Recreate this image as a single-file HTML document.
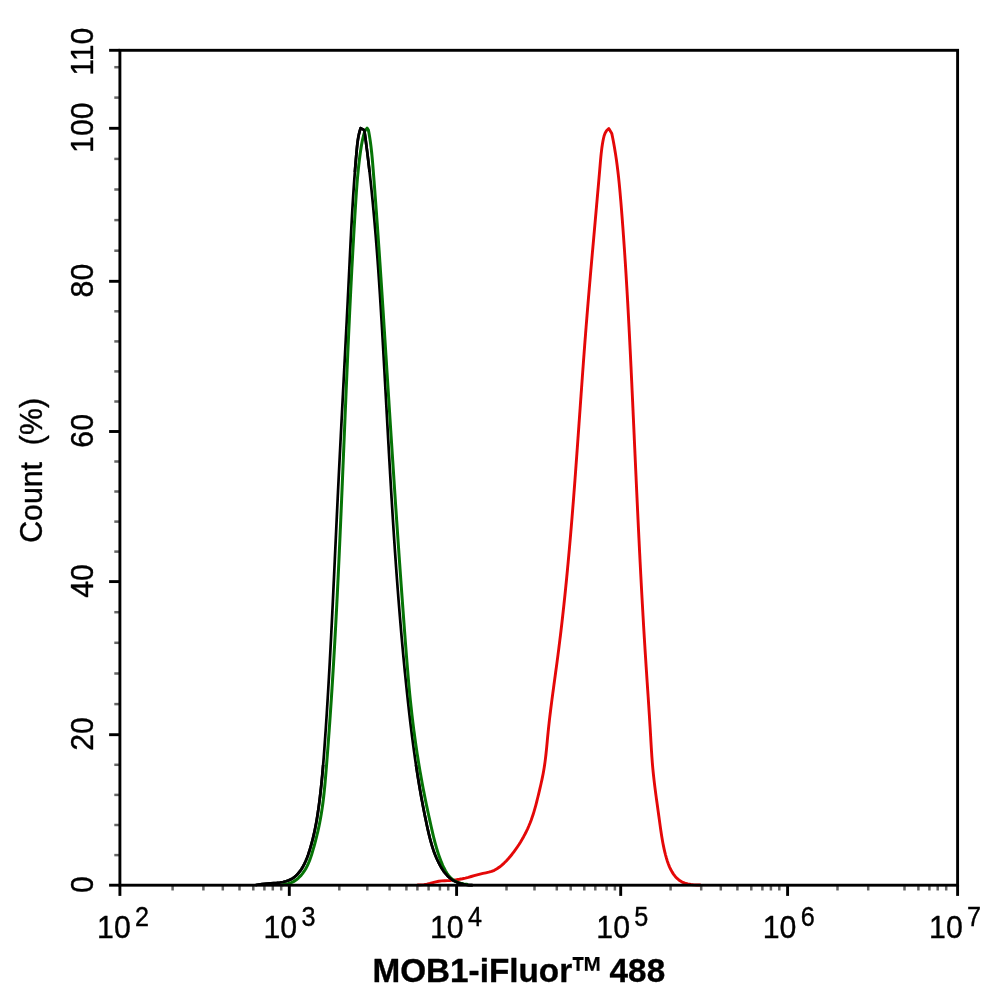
<!DOCTYPE html>
<html lang="en">
<head>
<meta charset="utf-8">
<title>MOB1-iFluor™ 488</title>
<style>
html,body{margin:0;padding:0;background:#fff;}
body{width:994px;height:1002px;overflow:hidden;font-family:"Liberation Sans",sans-serif;}
svg{display:block;}
</style>
</head>
<body>
<svg width="994" height="1002" viewBox="0 0 994 1002">
<rect width="994" height="1002" fill="#fff"/>
<g fill="none" stroke-linejoin="round" stroke-linecap="round" stroke-width="2.9">
<path d="M418.00,885.00 L420.98,884.91 L423.95,884.63 L426.91,884.17 L429.88,883.52 L432.84,882.72 L435.80,881.89 L438.76,881.25 L441.71,880.90 L444.67,880.72 L447.63,880.61 L450.59,880.43 L453.55,880.15 L456.51,879.76 L459.47,879.28 L462.42,878.71 L465.37,878.05 L468.32,877.32 L471.25,876.52 L474.18,875.68 L477.10,874.85 L480.02,874.07 L482.94,873.39 L485.86,872.82 L488.74,872.20 L491.57,871.41 L494.32,870.29 L496.98,868.79 L499.51,867.01 L501.89,865.08 L504.13,863.06 L506.25,860.96 L508.27,858.78 L510.20,856.53 L512.06,854.22 L513.87,851.85 L515.63,849.44 L517.34,846.97 L519.00,844.46 L520.60,841.91 L522.15,839.31 L523.63,836.68 L525.05,834.01 L526.41,831.30 L527.71,828.56 L528.93,825.79 L530.08,823.00 L531.16,820.18 L532.17,817.34 L533.12,814.47 L534.01,811.59 L534.86,808.70 L535.66,805.79 L536.43,802.87 L537.18,799.94 L537.90,797.00 L538.61,794.06 L539.32,791.12 L540.02,788.18 L540.70,785.23 L541.36,782.29 L542.00,779.34 L542.61,776.39 L543.19,773.45 L543.72,770.50 L544.21,767.54 L544.66,764.59 L545.07,761.64 L545.45,758.68 L545.79,755.73 L546.12,752.77 L546.42,749.81 L546.72,746.85 L547.00,743.89 L547.28,740.93 L547.55,737.97 L547.84,735.01 L548.13,732.04 L548.43,729.08 L548.75,726.11 L549.08,723.14 L549.41,720.17 L549.76,717.20 L550.11,714.23 L550.48,711.26 L550.85,708.29 L551.22,705.32 L551.61,702.34 L551.99,699.37 L552.39,696.39 L552.79,693.41 L553.19,690.44 L553.59,687.46 L553.99,684.48 L554.40,681.50 L554.81,678.52 L555.22,675.53 L555.62,672.55 L556.03,669.57 L556.43,666.58 L556.84,663.60 L557.23,660.61 L557.63,657.63 L558.02,654.64 L558.40,651.65 L558.79,648.66 L559.16,645.67 L559.54,642.68 L559.90,639.69 L560.27,636.70 L560.63,633.71 L560.99,630.71 L561.34,627.72 L561.69,624.73 L562.03,621.73 L562.37,618.74 L562.71,615.74 L563.04,612.74 L563.37,609.75 L563.70,606.75 L564.02,603.75 L564.34,600.75 L564.66,597.75 L564.97,594.75 L565.28,591.75 L565.59,588.75 L565.89,585.75 L566.19,582.75 L566.49,579.75 L566.78,576.75 L567.07,573.74 L567.36,570.74 L567.64,567.74 L567.93,564.73 L568.21,561.73 L568.48,558.72 L568.76,555.72 L569.03,552.71 L569.30,549.71 L569.56,546.70 L569.83,543.70 L570.09,540.69 L570.35,537.68 L570.61,534.67 L570.86,531.67 L571.12,528.66 L571.37,525.65 L571.61,522.64 L571.86,519.64 L572.11,516.63 L572.35,513.62 L572.59,510.61 L572.83,507.60 L573.07,504.59 L573.31,501.58 L573.54,498.57 L573.77,495.57 L574.00,492.56 L574.23,489.55 L574.46,486.54 L574.69,483.53 L574.92,480.52 L575.14,477.51 L575.37,474.50 L575.59,471.49 L575.81,468.48 L576.03,465.47 L576.25,462.46 L576.47,459.45 L576.69,456.44 L576.91,453.43 L577.12,450.42 L577.34,447.41 L577.56,444.40 L577.77,441.39 L577.98,438.38 L578.20,435.38 L578.41,432.37 L578.63,429.36 L578.84,426.35 L579.05,423.34 L579.26,420.33 L579.48,417.33 L579.69,414.32 L579.90,411.31 L580.12,408.30 L580.33,405.30 L580.54,402.29 L580.75,399.28 L580.97,396.28 L581.18,393.27 L581.40,390.27 L581.61,387.26 L581.83,384.26 L582.04,381.25 L582.26,378.25 L582.47,375.24 L582.69,372.24 L582.91,369.24 L583.13,366.24 L583.35,363.23 L583.57,360.23 L583.79,357.23 L584.02,354.23 L584.24,351.23 L584.47,348.23 L584.69,345.23 L584.92,342.23 L585.15,339.23 L585.38,336.24 L585.61,333.24 L585.85,330.24 L586.08,327.25 L586.32,324.25 L586.56,321.26 L586.80,318.26 L587.04,315.27 L587.28,312.27 L587.53,309.28 L587.77,306.29 L588.02,303.30 L588.27,300.31 L588.52,297.32 L588.78,294.33 L589.03,291.34 L589.28,288.35 L589.54,285.36 L589.80,282.37 L590.06,279.38 L590.31,276.39 L590.57,273.40 L590.83,270.42 L591.10,267.43 L591.36,264.44 L591.62,261.45 L591.89,258.47 L592.15,255.48 L592.41,252.49 L592.68,249.51 L592.94,246.52 L593.21,243.53 L593.48,240.55 L593.74,237.56 L594.01,234.57 L594.28,231.59 L594.54,228.60 L594.81,225.61 L595.08,222.62 L595.34,219.64 L595.61,216.65 L595.88,213.66 L596.14,210.67 L596.41,207.69 L596.67,204.70 L596.94,201.71 L597.20,198.72 L597.47,195.73 L597.73,192.74 L597.99,189.75 L598.25,186.76 L598.51,183.77 L598.77,180.77 L599.03,177.78 L599.29,174.79 L599.55,171.80 L599.80,168.80 L600.06,165.81 L600.31,162.81 L600.57,159.82 L600.85,156.82 L601.16,153.81 L601.50,150.81 L601.88,147.80 L602.32,144.78 L602.83,141.76 L603.41,138.73 L604.14,135.76 L605.18,132.99 L606.68,130.55 L608.80,128.60 L611.80,133.60 L612.42,136.57 L613.01,139.53 L613.58,142.50 L614.12,145.47 L614.63,148.44 L615.12,151.41 L615.59,154.38 L616.04,157.36 L616.47,160.33 L616.87,163.30 L617.26,166.28 L617.63,169.25 L617.99,172.22 L618.33,175.20 L618.66,178.18 L618.97,181.15 L619.27,184.13 L619.56,187.11 L619.84,190.09 L620.11,193.06 L620.37,196.04 L620.63,199.02 L620.88,202.00 L621.12,204.98 L621.36,207.97 L621.60,210.95 L621.83,213.93 L622.07,216.91 L622.30,219.90 L622.52,222.88 L622.75,225.87 L622.97,228.85 L623.19,231.84 L623.40,234.82 L623.62,237.81 L623.83,240.80 L624.04,243.78 L624.24,246.77 L624.45,249.76 L624.65,252.75 L624.85,255.74 L625.04,258.73 L625.24,261.72 L625.43,264.71 L625.62,267.70 L625.81,270.69 L626.00,273.68 L626.18,276.67 L626.36,279.67 L626.54,282.66 L626.72,285.65 L626.90,288.65 L627.07,291.64 L627.25,294.63 L627.42,297.63 L627.59,300.62 L627.76,303.62 L627.92,306.62 L628.09,309.61 L628.25,312.61 L628.41,315.61 L628.57,318.60 L628.73,321.60 L628.89,324.60 L629.05,327.60 L629.20,330.59 L629.36,333.59 L629.51,336.59 L629.66,339.59 L629.81,342.59 L629.96,345.59 L630.11,348.59 L630.26,351.59 L630.41,354.59 L630.55,357.59 L630.70,360.60 L630.84,363.60 L630.99,366.60 L631.13,369.60 L631.27,372.60 L631.41,375.60 L631.55,378.61 L631.70,381.61 L631.84,384.61 L631.97,387.62 L632.11,390.62 L632.25,393.62 L632.39,396.63 L632.53,399.63 L632.67,402.64 L632.80,405.64 L632.94,408.64 L633.08,411.65 L633.21,414.65 L633.35,417.66 L633.49,420.66 L633.62,423.67 L633.76,426.67 L633.90,429.68 L634.03,432.68 L634.17,435.69 L634.30,438.70 L634.44,441.70 L634.57,444.71 L634.71,447.71 L634.85,450.72 L634.98,453.73 L635.12,456.73 L635.25,459.74 L635.39,462.75 L635.53,465.75 L635.66,468.76 L635.80,471.77 L635.94,474.77 L636.08,477.78 L636.21,480.79 L636.35,483.79 L636.49,486.80 L636.63,489.81 L636.77,492.81 L636.91,495.82 L637.05,498.83 L637.19,501.83 L637.33,504.84 L637.47,507.85 L637.61,510.85 L637.75,513.86 L637.89,516.87 L638.04,519.87 L638.18,522.88 L638.32,525.89 L638.47,528.89 L638.62,531.90 L638.76,534.91 L638.91,537.91 L639.06,540.92 L639.20,543.93 L639.35,546.93 L639.50,549.94 L639.65,552.94 L639.81,555.95 L639.96,558.96 L640.11,561.96 L640.27,564.97 L640.42,567.97 L640.58,570.98 L640.73,573.98 L640.89,576.99 L641.05,579.99 L641.21,583.00 L641.37,586.00 L641.53,589.01 L641.69,592.01 L641.86,595.02 L642.02,598.02 L642.19,601.02 L642.36,604.03 L642.53,607.03 L642.70,610.03 L642.87,613.04 L643.04,616.04 L643.21,619.04 L643.39,622.04 L643.56,625.05 L643.74,628.05 L643.92,631.05 L644.10,634.05 L644.28,637.05 L644.47,640.05 L644.65,643.05 L644.84,646.05 L645.02,649.05 L645.21,652.05 L645.40,655.05 L645.60,658.05 L645.79,661.05 L645.98,664.05 L646.18,667.05 L646.38,670.05 L646.58,673.04 L646.77,676.04 L646.97,679.04 L647.17,682.03 L647.37,685.03 L647.57,688.03 L647.77,691.02 L647.97,694.02 L648.17,697.01 L648.37,700.01 L648.56,703.00 L648.76,706.00 L648.95,708.99 L649.14,711.98 L649.34,714.97 L649.52,717.97 L649.71,720.96 L649.89,723.95 L650.08,726.94 L650.26,729.93 L650.43,732.92 L650.61,735.91 L650.78,738.90 L650.95,741.89 L651.13,744.88 L651.31,747.87 L651.49,750.85 L651.69,753.84 L651.89,756.83 L652.11,759.82 L652.34,762.80 L652.59,765.79 L652.86,768.77 L653.14,771.76 L653.45,774.74 L653.77,777.72 L654.11,780.71 L654.46,783.69 L654.83,786.67 L655.21,789.65 L655.60,792.63 L656.00,795.61 L656.40,798.59 L656.81,801.57 L657.23,804.54 L657.64,807.52 L658.06,810.50 L658.47,813.47 L658.89,816.45 L659.29,819.42 L659.70,822.39 L660.11,825.36 L660.52,828.33 L660.95,831.30 L661.40,834.27 L661.88,837.24 L662.38,840.20 L662.92,843.17 L663.50,846.13 L664.13,849.10 L664.82,852.06 L665.56,855.02 L666.37,857.97 L667.26,860.90 L668.26,863.78 L669.38,866.59 L670.63,869.30 L672.05,871.90 L673.64,874.36 L675.42,876.65 L677.42,878.73 L679.64,880.54 L682.12,882.04 L684.85,883.18 L687.79,884.00 L690.86,884.54 L693.97,884.85 L697.04,884.99 L700.00,885.00" stroke="#e40808"/>
<path d="M256.00,885.00 L258.99,884.51 L261.93,884.12 L264.84,883.82 L267.77,883.57 L270.73,883.34 L273.74,883.11 L276.84,882.85 L279.96,882.50 L283.06,882.00 L286.06,881.30 L288.92,880.33 L291.56,879.04 L293.98,877.44 L296.18,875.56 L298.19,873.46 L300.01,871.17 L301.67,868.75 L303.18,866.20 L304.55,863.54 L305.80,860.79 L306.94,857.97 L308.00,855.11 L308.97,852.21 L309.89,849.29 L310.76,846.37 L311.58,843.45 L312.36,840.52 L313.09,837.59 L313.79,834.65 L314.44,831.71 L315.06,828.77 L315.64,825.83 L316.19,822.88 L316.71,819.93 L317.20,816.97 L317.67,814.01 L318.11,811.05 L318.54,808.09 L318.94,805.13 L319.33,802.16 L319.70,799.19 L320.06,796.22 L320.41,793.24 L320.74,790.27 L321.06,787.29 L321.37,784.31 L321.67,781.33 L321.96,778.34 L322.24,775.36 L322.50,772.37 L322.77,769.38 L323.02,766.39 L323.27,763.40 L323.50,760.41 L323.74,757.42 L323.97,754.43 L324.19,751.43 L324.41,748.44 L324.62,745.45 L324.83,742.45 L325.04,739.46 L325.25,736.46 L325.45,733.46 L325.66,730.47 L325.86,727.47 L326.05,724.47 L326.25,721.48 L326.44,718.48 L326.64,715.48 L326.83,712.48 L327.02,709.49 L327.20,706.49 L327.39,703.49 L327.57,700.49 L327.75,697.49 L327.93,694.49 L328.11,691.50 L328.29,688.50 L328.46,685.50 L328.63,682.50 L328.81,679.50 L328.98,676.50 L329.14,673.50 L329.31,670.50 L329.48,667.50 L329.64,664.49 L329.81,661.49 L329.97,658.49 L330.13,655.49 L330.29,652.49 L330.45,649.49 L330.60,646.49 L330.76,643.48 L330.92,640.48 L331.07,637.48 L331.22,634.48 L331.37,631.48 L331.53,628.47 L331.68,625.47 L331.83,622.47 L331.97,619.46 L332.12,616.46 L332.27,613.46 L332.41,610.45 L332.56,607.45 L332.71,604.45 L332.85,601.44 L332.99,598.44 L333.14,595.44 L333.28,592.43 L333.42,589.43 L333.56,586.43 L333.70,583.42 L333.85,580.42 L333.99,577.41 L334.13,574.41 L334.27,571.40 L334.41,568.40 L334.55,565.40 L334.69,562.39 L334.83,559.39 L334.96,556.38 L335.10,553.38 L335.24,550.37 L335.38,547.37 L335.52,544.36 L335.66,541.36 L335.80,538.35 L335.94,535.35 L336.08,532.35 L336.22,529.34 L336.36,526.34 L336.50,523.33 L336.64,520.33 L336.78,517.32 L336.92,514.32 L337.07,511.31 L337.21,508.31 L337.35,505.30 L337.50,502.30 L337.64,499.29 L337.78,496.29 L337.93,493.28 L338.07,490.28 L338.22,487.28 L338.37,484.27 L338.52,481.27 L338.66,478.26 L338.81,475.26 L338.96,472.25 L339.11,469.25 L339.26,466.25 L339.41,463.24 L339.56,460.24 L339.71,457.23 L339.86,454.23 L340.02,451.23 L340.17,448.22 L340.32,445.22 L340.47,442.22 L340.63,439.21 L340.78,436.21 L340.93,433.21 L341.09,430.20 L341.24,427.20 L341.39,424.20 L341.55,421.19 L341.70,418.19 L341.86,415.19 L342.01,412.19 L342.17,409.18 L342.32,406.18 L342.48,403.18 L342.63,400.18 L342.79,397.18 L342.95,394.18 L343.10,391.18 L343.26,388.17 L343.41,385.17 L343.57,382.17 L343.72,379.17 L343.88,376.17 L344.04,373.17 L344.19,370.17 L344.35,367.17 L344.50,364.17 L344.66,361.17 L344.81,358.17 L344.97,355.17 L345.12,352.17 L345.28,349.18 L345.43,346.18 L345.59,343.18 L345.74,340.18 L345.89,337.18 L346.05,334.19 L346.20,331.19 L346.35,328.19 L346.51,325.19 L346.66,322.20 L346.81,319.20 L346.96,316.21 L347.11,313.21 L347.26,310.21 L347.42,307.22 L347.57,304.22 L347.72,301.23 L347.86,298.23 L348.01,295.24 L348.16,292.25 L348.31,289.25 L348.46,286.26 L348.60,283.26 L348.75,280.27 L348.90,277.28 L349.04,274.29 L349.19,271.29 L349.33,268.30 L349.48,265.31 L349.62,262.32 L349.76,259.33 L349.91,256.34 L350.05,253.35 L350.20,250.36 L350.35,247.37 L350.49,244.38 L350.64,241.39 L350.79,238.40 L350.95,235.41 L351.10,232.43 L351.26,229.44 L351.41,226.45 L351.57,223.47 L351.74,220.48 L351.90,217.49 L352.07,214.51 L352.24,211.52 L352.41,208.54 L352.59,205.55 L352.77,202.57 L352.96,199.58 L353.15,196.60 L353.34,193.62 L353.54,190.64 L353.74,187.65 L353.95,184.67 L354.16,181.69 L354.37,178.71 L354.59,175.73 L354.82,172.75 L355.05,169.77 L355.29,166.79 L355.53,163.81 L355.78,160.83 L356.04,157.85 L356.30,154.88 L356.57,151.90 L356.85,148.92 L357.14,145.95 L357.48,142.97 L357.88,140.00 L358.37,137.02 L358.97,134.05 L359.71,131.07 L360.60,128.10 L364.30,130.10 L364.72,133.08 L365.13,136.05 L365.54,139.03 L365.93,142.01 L366.33,144.99 L366.71,147.97 L367.09,150.95 L367.46,153.93 L367.82,156.91 L368.18,159.89 L368.53,162.87 L368.88,165.85 L369.22,168.83 L369.56,171.82 L369.89,174.80 L370.22,177.78 L370.54,180.76 L370.86,183.75 L371.17,186.73 L371.48,189.72 L371.78,192.70 L372.08,195.68 L372.38,198.67 L372.67,201.66 L372.95,204.64 L373.23,207.63 L373.51,210.61 L373.78,213.60 L374.05,216.59 L374.32,219.57 L374.58,222.56 L374.84,225.55 L375.10,228.54 L375.35,231.53 L375.59,234.51 L375.84,237.50 L376.08,240.49 L376.32,243.48 L376.55,246.47 L376.78,249.46 L377.01,252.45 L377.24,255.44 L377.46,258.43 L377.68,261.42 L377.89,264.41 L378.11,267.41 L378.32,270.40 L378.53,273.39 L378.73,276.38 L378.94,279.37 L379.14,282.37 L379.34,285.36 L379.54,288.35 L379.73,291.34 L379.93,294.34 L380.12,297.33 L380.31,300.33 L380.49,303.32 L380.68,306.31 L380.86,309.31 L381.05,312.30 L381.23,315.30 L381.41,318.29 L381.59,321.29 L381.76,324.28 L381.94,327.28 L382.12,330.27 L382.29,333.27 L382.46,336.26 L382.63,339.26 L382.81,342.25 L382.98,345.25 L383.15,348.25 L383.32,351.24 L383.48,354.24 L383.65,357.23 L383.82,360.23 L383.99,363.23 L384.15,366.22 L384.32,369.22 L384.49,372.22 L384.65,375.22 L384.82,378.21 L384.98,381.21 L385.15,384.21 L385.31,387.21 L385.48,390.20 L385.64,393.20 L385.81,396.20 L385.97,399.20 L386.14,402.19 L386.30,405.19 L386.47,408.19 L386.63,411.19 L386.80,414.18 L386.96,417.18 L387.13,420.18 L387.29,423.18 L387.46,426.18 L387.62,429.17 L387.79,432.17 L387.96,435.17 L388.12,438.17 L388.29,441.17 L388.46,444.17 L388.63,447.16 L388.79,450.16 L388.96,453.16 L389.13,456.16 L389.30,459.16 L389.47,462.15 L389.65,465.15 L389.82,468.15 L389.99,471.15 L390.16,474.15 L390.34,477.14 L390.51,480.14 L390.69,483.14 L390.87,486.14 L391.04,489.14 L391.22,492.13 L391.40,495.13 L391.58,498.13 L391.77,501.13 L391.95,504.12 L392.13,507.12 L392.32,510.12 L392.50,513.12 L392.69,516.11 L392.88,519.11 L393.07,522.11 L393.26,525.10 L393.45,528.10 L393.65,531.10 L393.84,534.09 L394.04,537.09 L394.24,540.09 L394.44,543.08 L394.64,546.08 L394.84,549.08 L395.04,552.07 L395.25,555.07 L395.46,558.06 L395.67,561.06 L395.88,564.05 L396.09,567.05 L396.31,570.04 L396.52,573.04 L396.74,576.03 L396.96,579.03 L397.18,582.02 L397.40,585.02 L397.63,588.01 L397.86,591.00 L398.09,594.00 L398.32,596.99 L398.55,599.98 L398.79,602.98 L399.03,605.97 L399.27,608.96 L399.51,611.95 L399.75,614.95 L400.00,617.94 L400.25,620.93 L400.50,623.92 L400.76,626.91 L401.01,629.90 L401.27,632.89 L401.53,635.88 L401.80,638.87 L402.06,641.87 L402.33,644.85 L402.60,647.84 L402.88,650.83 L403.15,653.82 L403.43,656.81 L403.72,659.80 L404.00,662.79 L404.29,665.78 L404.58,668.76 L404.87,671.75 L405.17,674.74 L405.47,677.73 L405.77,680.71 L406.08,683.70 L406.38,686.68 L406.70,689.67 L407.01,692.66 L407.33,695.64 L407.65,698.62 L407.97,701.61 L408.30,704.59 L408.63,707.58 L408.97,710.56 L409.31,713.54 L409.65,716.53 L410.00,719.51 L410.35,722.49 L410.71,725.47 L411.07,728.45 L411.44,731.43 L411.81,734.41 L412.19,737.39 L412.58,740.37 L412.97,743.35 L413.37,746.33 L413.77,749.31 L414.18,752.29 L414.60,755.27 L415.02,758.25 L415.46,761.22 L415.90,764.20 L416.34,767.18 L416.80,770.15 L417.26,773.13 L417.73,776.10 L418.21,779.08 L418.70,782.05 L419.19,785.02 L419.70,788.00 L420.21,790.97 L420.74,793.94 L421.27,796.92 L421.82,799.89 L422.37,802.86 L422.93,805.82 L423.50,808.78 L424.09,811.74 L424.68,814.70 L425.28,817.64 L425.89,820.58 L426.51,823.51 L427.14,826.43 L427.78,829.35 L428.44,832.25 L429.13,835.14 L429.84,838.02 L430.59,840.88 L431.39,843.73 L432.25,846.57 L433.16,849.39 L434.14,852.19 L435.20,854.97 L436.34,857.74 L437.57,860.49 L438.89,863.21 L440.32,865.90 L441.87,868.53 L443.55,871.06 L445.38,873.46 L447.37,875.69 L449.53,877.74 L451.88,879.55 L454.42,881.10 L457.16,882.38 L460.03,883.41 L463.00,884.18 L466.02,884.73 L469.03,885.06 L472.00,885.20" stroke="#000" stroke-width="2.7"/>
<path d="M282.00,885.00 L285.01,884.31 L287.94,883.72 L290.77,882.89 L293.48,881.62 L296.02,879.98 L298.38,878.05 L300.53,875.91 L302.47,873.63 L304.19,871.23 L305.74,868.71 L307.13,866.10 L308.38,863.40 L309.51,860.63 L310.54,857.80 L311.49,854.94 L312.38,852.04 L313.24,849.13 L314.07,846.22 L314.87,843.30 L315.64,840.37 L316.39,837.44 L317.11,834.51 L317.80,831.57 L318.46,828.62 L319.09,825.68 L319.69,822.72 L320.25,819.77 L320.79,816.81 L321.30,813.84 L321.77,810.87 L322.22,807.90 L322.63,804.93 L323.03,801.95 L323.39,798.98 L323.74,795.99 L324.06,793.01 L324.37,790.03 L324.67,787.04 L324.95,784.05 L325.21,781.06 L325.47,778.07 L325.72,775.08 L325.97,772.09 L326.22,769.10 L326.46,766.11 L326.70,763.11 L326.93,760.12 L327.17,757.13 L327.40,754.13 L327.63,751.14 L327.86,748.14 L328.09,745.15 L328.31,742.15 L328.53,739.16 L328.75,736.16 L328.97,733.17 L329.19,730.17 L329.40,727.18 L329.62,724.18 L329.83,721.18 L330.04,718.18 L330.24,715.19 L330.45,712.19 L330.65,709.19 L330.85,706.19 L331.05,703.19 L331.25,700.19 L331.45,697.19 L331.64,694.20 L331.84,691.20 L332.03,688.20 L332.22,685.20 L332.41,682.20 L332.59,679.19 L332.78,676.19 L332.96,673.19 L333.15,670.19 L333.33,667.19 L333.51,664.19 L333.68,661.19 L333.86,658.18 L334.03,655.18 L334.21,652.18 L334.38,649.18 L334.55,646.17 L334.72,643.17 L334.89,640.17 L335.05,637.16 L335.22,634.16 L335.38,631.16 L335.55,628.15 L335.71,625.15 L335.87,622.14 L336.03,619.14 L336.18,616.13 L336.34,613.13 L336.50,610.12 L336.65,607.12 L336.80,604.11 L336.96,601.11 L337.11,598.10 L337.26,595.10 L337.41,592.09 L337.56,589.09 L337.70,586.08 L337.85,583.07 L338.00,580.07 L338.14,577.06 L338.28,574.06 L338.43,571.05 L338.57,568.04 L338.71,565.04 L338.85,562.03 L338.99,559.02 L339.13,556.02 L339.27,553.01 L339.40,550.00 L339.54,546.99 L339.68,543.99 L339.81,540.98 L339.95,537.97 L340.08,534.97 L340.21,531.96 L340.34,528.95 L340.48,525.94 L340.61,522.94 L340.74,519.93 L340.87,516.92 L341.00,513.91 L341.13,510.90 L341.26,507.90 L341.39,504.89 L341.52,501.88 L341.64,498.87 L341.77,495.87 L341.90,492.86 L342.03,489.85 L342.15,486.84 L342.28,483.84 L342.40,480.83 L342.53,477.82 L342.66,474.81 L342.78,471.80 L342.91,468.80 L343.03,465.79 L343.16,462.78 L343.28,459.77 L343.41,456.77 L343.53,453.76 L343.66,450.75 L343.78,447.74 L343.90,444.74 L344.03,441.73 L344.15,438.72 L344.28,435.72 L344.40,432.71 L344.53,429.70 L344.65,426.70 L344.78,423.69 L344.90,420.68 L345.03,417.68 L345.15,414.67 L345.28,411.66 L345.40,408.66 L345.53,405.65 L345.66,402.64 L345.78,399.64 L345.91,396.63 L346.04,393.63 L346.16,390.62 L346.29,387.62 L346.42,384.61 L346.55,381.61 L346.68,378.60 L346.81,375.60 L346.94,372.59 L347.07,369.59 L347.20,366.58 L347.33,363.58 L347.46,360.57 L347.59,357.57 L347.73,354.57 L347.86,351.56 L348.00,348.56 L348.13,345.55 L348.27,342.55 L348.40,339.55 L348.54,336.55 L348.68,333.54 L348.82,330.54 L348.96,327.54 L349.10,324.54 L349.24,321.54 L349.38,318.53 L349.52,315.53 L349.66,312.53 L349.81,309.53 L349.95,306.53 L350.10,303.53 L350.25,300.53 L350.40,297.53 L350.54,294.53 L350.69,291.53 L350.85,288.53 L351.00,285.53 L351.15,282.53 L351.31,279.54 L351.46,276.54 L351.62,273.54 L351.77,270.54 L351.93,267.54 L352.09,264.55 L352.25,261.55 L352.42,258.55 L352.58,255.56 L352.75,252.56 L352.91,249.57 L353.08,246.57 L353.25,243.58 L353.42,240.58 L353.59,237.59 L353.76,234.59 L353.94,231.60 L354.11,228.61 L354.29,225.61 L354.47,222.62 L354.65,219.63 L354.83,216.64 L355.02,213.64 L355.20,210.65 L355.39,207.66 L355.57,204.67 L355.76,201.68 L355.96,198.69 L356.16,195.70 L356.36,192.71 L356.57,189.72 L356.79,186.73 L357.02,183.74 L357.26,180.75 L357.51,177.75 L357.78,174.76 L358.07,171.77 L358.37,168.77 L358.69,165.77 L359.03,162.77 L359.39,159.77 L359.77,156.77 L360.18,153.77 L360.61,150.76 L361.07,147.76 L361.57,144.76 L362.12,141.80 L362.74,138.88 L363.44,136.03 L364.23,133.26 L365.14,130.58 L367.10,128.10 L368.40,130.10 L368.96,133.08 L369.48,136.07 L369.95,139.05 L370.39,142.04 L370.79,145.03 L371.15,148.01 L371.49,151.00 L371.80,153.99 L372.09,156.98 L372.36,159.96 L372.62,162.95 L372.86,165.94 L373.10,168.93 L373.34,171.92 L373.57,174.92 L373.81,177.91 L374.04,180.90 L374.27,183.89 L374.50,186.89 L374.73,189.88 L374.95,192.87 L375.18,195.87 L375.40,198.86 L375.63,201.86 L375.85,204.86 L376.07,207.85 L376.29,210.85 L376.51,213.85 L376.72,216.84 L376.94,219.84 L377.15,222.84 L377.37,225.84 L377.58,228.84 L377.79,231.84 L378.00,234.84 L378.21,237.84 L378.42,240.84 L378.63,243.84 L378.84,246.84 L379.05,249.84 L379.25,252.85 L379.46,255.85 L379.66,258.85 L379.86,261.85 L380.07,264.86 L380.27,267.86 L380.47,270.86 L380.67,273.87 L380.87,276.87 L381.07,279.88 L381.27,282.88 L381.47,285.89 L381.66,288.89 L381.86,291.90 L382.06,294.91 L382.26,297.91 L382.45,300.92 L382.65,303.93 L382.84,306.93 L383.04,309.94 L383.23,312.95 L383.42,315.95 L383.62,318.96 L383.81,321.97 L384.00,324.98 L384.20,327.99 L384.39,331.00 L384.58,334.00 L384.77,337.01 L384.97,340.02 L385.16,343.03 L385.35,346.04 L385.54,349.05 L385.73,352.06 L385.93,355.07 L386.12,358.08 L386.31,361.09 L386.50,364.10 L386.69,367.11 L386.88,370.12 L387.08,373.13 L387.27,376.14 L387.46,379.15 L387.65,382.16 L387.84,385.17 L388.04,388.18 L388.23,391.19 L388.42,394.20 L388.61,397.21 L388.81,400.22 L389.00,403.23 L389.19,406.24 L389.38,409.25 L389.58,412.26 L389.77,415.27 L389.96,418.28 L390.16,421.29 L390.35,424.31 L390.54,427.32 L390.74,430.33 L390.93,433.34 L391.13,436.35 L391.32,439.36 L391.52,442.37 L391.71,445.38 L391.91,448.39 L392.10,451.40 L392.30,454.41 L392.49,457.42 L392.69,460.43 L392.89,463.44 L393.08,466.45 L393.28,469.46 L393.48,472.46 L393.68,475.47 L393.87,478.48 L394.07,481.49 L394.27,484.50 L394.47,487.51 L394.67,490.52 L394.87,493.52 L395.07,496.53 L395.27,499.54 L395.47,502.55 L395.67,505.56 L395.87,508.56 L396.08,511.57 L396.28,514.58 L396.48,517.58 L396.68,520.59 L396.89,523.59 L397.09,526.60 L397.30,529.61 L397.50,532.61 L397.71,535.62 L397.92,538.62 L398.12,541.63 L398.33,544.63 L398.54,547.63 L398.75,550.64 L398.95,553.64 L399.16,556.64 L399.37,559.65 L399.58,562.65 L399.80,565.65 L400.01,568.65 L400.22,571.65 L400.43,574.65 L400.65,577.66 L400.86,580.66 L401.07,583.66 L401.29,586.66 L401.51,589.65 L401.72,592.65 L401.94,595.65 L402.16,598.65 L402.38,601.65 L402.60,604.64 L402.82,607.64 L403.04,610.64 L403.26,613.63 L403.48,616.63 L403.70,619.62 L403.93,622.62 L404.15,625.61 L404.37,628.61 L404.60,631.60 L404.83,634.59 L405.05,637.59 L405.28,640.58 L405.51,643.57 L405.74,646.56 L405.97,649.55 L406.20,652.54 L406.43,655.53 L406.67,658.52 L406.90,661.51 L407.14,664.49 L407.38,667.48 L407.63,670.47 L407.88,673.45 L408.13,676.44 L408.39,679.43 L408.65,682.41 L408.92,685.39 L409.19,688.38 L409.47,691.36 L409.76,694.34 L410.06,697.32 L410.36,700.30 L410.67,703.28 L410.99,706.26 L411.32,709.24 L411.65,712.22 L411.99,715.20 L412.34,718.18 L412.70,721.15 L413.07,724.13 L413.44,727.10 L413.82,730.08 L414.21,733.05 L414.61,736.02 L415.02,739.00 L415.44,741.97 L415.86,744.94 L416.30,747.91 L416.74,750.88 L417.19,753.85 L417.66,756.82 L418.13,759.78 L418.60,762.75 L419.09,765.72 L419.59,768.68 L420.10,771.65 L420.62,774.61 L421.14,777.57 L421.68,780.54 L422.22,783.50 L422.78,786.46 L423.34,789.42 L423.92,792.38 L424.50,795.33 L425.09,798.29 L425.70,801.24 L426.31,804.20 L426.92,807.15 L427.55,810.10 L428.18,813.04 L428.82,815.99 L429.46,818.93 L430.11,821.86 L430.77,824.79 L431.43,827.72 L432.09,830.64 L432.77,833.56 L433.47,836.48 L434.20,839.39 L434.95,842.29 L435.73,845.19 L436.56,848.08 L437.44,850.96 L438.36,853.84 L439.34,856.71 L440.39,859.58 L441.50,862.43 L442.69,865.27 L443.98,868.06 L445.40,870.76 L446.96,873.31 L448.70,875.68 L450.65,877.82 L452.82,879.68 L455.23,881.21 L457.87,882.41 L460.73,883.30 L463.78,883.89 L467.00,884.20" stroke="#067406" stroke-width="3.0"/>
<clipPath id="ends"><rect x="0" y="0" width="994" height="172"/><rect x="0" y="765" width="994" height="140"/></clipPath>
<path d="M256.00,885.00 L258.99,884.51 L261.93,884.12 L264.84,883.82 L267.77,883.57 L270.73,883.34 L273.74,883.11 L276.84,882.85 L279.96,882.50 L283.06,882.00 L286.06,881.30 L288.92,880.33 L291.56,879.04 L293.98,877.44 L296.18,875.56 L298.19,873.46 L300.01,871.17 L301.67,868.75 L303.18,866.20 L304.55,863.54 L305.80,860.79 L306.94,857.97 L308.00,855.11 L308.97,852.21 L309.89,849.29 L310.76,846.37 L311.58,843.45 L312.36,840.52 L313.09,837.59 L313.79,834.65 L314.44,831.71 L315.06,828.77 L315.64,825.83 L316.19,822.88 L316.71,819.93 L317.20,816.97 L317.67,814.01 L318.11,811.05 L318.54,808.09 L318.94,805.13 L319.33,802.16 L319.70,799.19 L320.06,796.22 L320.41,793.24 L320.74,790.27 L321.06,787.29 L321.37,784.31 L321.67,781.33 L321.96,778.34 L322.24,775.36 L322.50,772.37 L322.77,769.38 L323.02,766.39 L323.27,763.40 L323.50,760.41 L323.74,757.42 L323.97,754.43 L324.19,751.43 L324.41,748.44 L324.62,745.45 L324.83,742.45 L325.04,739.46 L325.25,736.46 L325.45,733.46 L325.66,730.47 L325.86,727.47 L326.05,724.47 L326.25,721.48 L326.44,718.48 L326.64,715.48 L326.83,712.48 L327.02,709.49 L327.20,706.49 L327.39,703.49 L327.57,700.49 L327.75,697.49 L327.93,694.49 L328.11,691.50 L328.29,688.50 L328.46,685.50 L328.63,682.50 L328.81,679.50 L328.98,676.50 L329.14,673.50 L329.31,670.50 L329.48,667.50 L329.64,664.49 L329.81,661.49 L329.97,658.49 L330.13,655.49 L330.29,652.49 L330.45,649.49 L330.60,646.49 L330.76,643.48 L330.92,640.48 L331.07,637.48 L331.22,634.48 L331.37,631.48 L331.53,628.47 L331.68,625.47 L331.83,622.47 L331.97,619.46 L332.12,616.46 L332.27,613.46 L332.41,610.45 L332.56,607.45 L332.71,604.45 L332.85,601.44 L332.99,598.44 L333.14,595.44 L333.28,592.43 L333.42,589.43 L333.56,586.43 L333.70,583.42 L333.85,580.42 L333.99,577.41 L334.13,574.41 L334.27,571.40 L334.41,568.40 L334.55,565.40 L334.69,562.39 L334.83,559.39 L334.96,556.38 L335.10,553.38 L335.24,550.37 L335.38,547.37 L335.52,544.36 L335.66,541.36 L335.80,538.35 L335.94,535.35 L336.08,532.35 L336.22,529.34 L336.36,526.34 L336.50,523.33 L336.64,520.33 L336.78,517.32 L336.92,514.32 L337.07,511.31 L337.21,508.31 L337.35,505.30 L337.50,502.30 L337.64,499.29 L337.78,496.29 L337.93,493.28 L338.07,490.28 L338.22,487.28 L338.37,484.27 L338.52,481.27 L338.66,478.26 L338.81,475.26 L338.96,472.25 L339.11,469.25 L339.26,466.25 L339.41,463.24 L339.56,460.24 L339.71,457.23 L339.86,454.23 L340.02,451.23 L340.17,448.22 L340.32,445.22 L340.47,442.22 L340.63,439.21 L340.78,436.21 L340.93,433.21 L341.09,430.20 L341.24,427.20 L341.39,424.20 L341.55,421.19 L341.70,418.19 L341.86,415.19 L342.01,412.19 L342.17,409.18 L342.32,406.18 L342.48,403.18 L342.63,400.18 L342.79,397.18 L342.95,394.18 L343.10,391.18 L343.26,388.17 L343.41,385.17 L343.57,382.17 L343.72,379.17 L343.88,376.17 L344.04,373.17 L344.19,370.17 L344.35,367.17 L344.50,364.17 L344.66,361.17 L344.81,358.17 L344.97,355.17 L345.12,352.17 L345.28,349.18 L345.43,346.18 L345.59,343.18 L345.74,340.18 L345.89,337.18 L346.05,334.19 L346.20,331.19 L346.35,328.19 L346.51,325.19 L346.66,322.20 L346.81,319.20 L346.96,316.21 L347.11,313.21 L347.26,310.21 L347.42,307.22 L347.57,304.22 L347.72,301.23 L347.86,298.23 L348.01,295.24 L348.16,292.25 L348.31,289.25 L348.46,286.26 L348.60,283.26 L348.75,280.27 L348.90,277.28 L349.04,274.29 L349.19,271.29 L349.33,268.30 L349.48,265.31 L349.62,262.32 L349.76,259.33 L349.91,256.34 L350.05,253.35 L350.20,250.36 L350.35,247.37 L350.49,244.38 L350.64,241.39 L350.79,238.40 L350.95,235.41 L351.10,232.43 L351.26,229.44 L351.41,226.45 L351.57,223.47 L351.74,220.48 L351.90,217.49 L352.07,214.51 L352.24,211.52 L352.41,208.54 L352.59,205.55 L352.77,202.57 L352.96,199.58 L353.15,196.60 L353.34,193.62 L353.54,190.64 L353.74,187.65 L353.95,184.67 L354.16,181.69 L354.37,178.71 L354.59,175.73 L354.82,172.75 L355.05,169.77 L355.29,166.79 L355.53,163.81 L355.78,160.83 L356.04,157.85 L356.30,154.88 L356.57,151.90 L356.85,148.92 L357.14,145.95 L357.48,142.97 L357.88,140.00 L358.37,137.02 L358.97,134.05 L359.71,131.07 L360.60,128.10 L364.30,130.10 L364.72,133.08 L365.13,136.05 L365.54,139.03 L365.93,142.01 L366.33,144.99 L366.71,147.97 L367.09,150.95 L367.46,153.93 L367.82,156.91 L368.18,159.89 L368.53,162.87 L368.88,165.85 L369.22,168.83 L369.56,171.82 L369.89,174.80 L370.22,177.78 L370.54,180.76 L370.86,183.75 L371.17,186.73 L371.48,189.72 L371.78,192.70 L372.08,195.68 L372.38,198.67 L372.67,201.66 L372.95,204.64 L373.23,207.63 L373.51,210.61 L373.78,213.60 L374.05,216.59 L374.32,219.57 L374.58,222.56 L374.84,225.55 L375.10,228.54 L375.35,231.53 L375.59,234.51 L375.84,237.50 L376.08,240.49 L376.32,243.48 L376.55,246.47 L376.78,249.46 L377.01,252.45 L377.24,255.44 L377.46,258.43 L377.68,261.42 L377.89,264.41 L378.11,267.41 L378.32,270.40 L378.53,273.39 L378.73,276.38 L378.94,279.37 L379.14,282.37 L379.34,285.36 L379.54,288.35 L379.73,291.34 L379.93,294.34 L380.12,297.33 L380.31,300.33 L380.49,303.32 L380.68,306.31 L380.86,309.31 L381.05,312.30 L381.23,315.30 L381.41,318.29 L381.59,321.29 L381.76,324.28 L381.94,327.28 L382.12,330.27 L382.29,333.27 L382.46,336.26 L382.63,339.26 L382.81,342.25 L382.98,345.25 L383.15,348.25 L383.32,351.24 L383.48,354.24 L383.65,357.23 L383.82,360.23 L383.99,363.23 L384.15,366.22 L384.32,369.22 L384.49,372.22 L384.65,375.22 L384.82,378.21 L384.98,381.21 L385.15,384.21 L385.31,387.21 L385.48,390.20 L385.64,393.20 L385.81,396.20 L385.97,399.20 L386.14,402.19 L386.30,405.19 L386.47,408.19 L386.63,411.19 L386.80,414.18 L386.96,417.18 L387.13,420.18 L387.29,423.18 L387.46,426.18 L387.62,429.17 L387.79,432.17 L387.96,435.17 L388.12,438.17 L388.29,441.17 L388.46,444.17 L388.63,447.16 L388.79,450.16 L388.96,453.16 L389.13,456.16 L389.30,459.16 L389.47,462.15 L389.65,465.15 L389.82,468.15 L389.99,471.15 L390.16,474.15 L390.34,477.14 L390.51,480.14 L390.69,483.14 L390.87,486.14 L391.04,489.14 L391.22,492.13 L391.40,495.13 L391.58,498.13 L391.77,501.13 L391.95,504.12 L392.13,507.12 L392.32,510.12 L392.50,513.12 L392.69,516.11 L392.88,519.11 L393.07,522.11 L393.26,525.10 L393.45,528.10 L393.65,531.10 L393.84,534.09 L394.04,537.09 L394.24,540.09 L394.44,543.08 L394.64,546.08 L394.84,549.08 L395.04,552.07 L395.25,555.07 L395.46,558.06 L395.67,561.06 L395.88,564.05 L396.09,567.05 L396.31,570.04 L396.52,573.04 L396.74,576.03 L396.96,579.03 L397.18,582.02 L397.40,585.02 L397.63,588.01 L397.86,591.00 L398.09,594.00 L398.32,596.99 L398.55,599.98 L398.79,602.98 L399.03,605.97 L399.27,608.96 L399.51,611.95 L399.75,614.95 L400.00,617.94 L400.25,620.93 L400.50,623.92 L400.76,626.91 L401.01,629.90 L401.27,632.89 L401.53,635.88 L401.80,638.87 L402.06,641.87 L402.33,644.85 L402.60,647.84 L402.88,650.83 L403.15,653.82 L403.43,656.81 L403.72,659.80 L404.00,662.79 L404.29,665.78 L404.58,668.76 L404.87,671.75 L405.17,674.74 L405.47,677.73 L405.77,680.71 L406.08,683.70 L406.38,686.68 L406.70,689.67 L407.01,692.66 L407.33,695.64 L407.65,698.62 L407.97,701.61 L408.30,704.59 L408.63,707.58 L408.97,710.56 L409.31,713.54 L409.65,716.53 L410.00,719.51 L410.35,722.49 L410.71,725.47 L411.07,728.45 L411.44,731.43 L411.81,734.41 L412.19,737.39 L412.58,740.37 L412.97,743.35 L413.37,746.33 L413.77,749.31 L414.18,752.29 L414.60,755.27 L415.02,758.25 L415.46,761.22 L415.90,764.20 L416.34,767.18 L416.80,770.15 L417.26,773.13 L417.73,776.10 L418.21,779.08 L418.70,782.05 L419.19,785.02 L419.70,788.00 L420.21,790.97 L420.74,793.94 L421.27,796.92 L421.82,799.89 L422.37,802.86 L422.93,805.82 L423.50,808.78 L424.09,811.74 L424.68,814.70 L425.28,817.64 L425.89,820.58 L426.51,823.51 L427.14,826.43 L427.78,829.35 L428.44,832.25 L429.13,835.14 L429.84,838.02 L430.59,840.88 L431.39,843.73 L432.25,846.57 L433.16,849.39 L434.14,852.19 L435.20,854.97 L436.34,857.74 L437.57,860.49 L438.89,863.21 L440.32,865.90 L441.87,868.53 L443.55,871.06 L445.38,873.46 L447.37,875.69 L449.53,877.74 L451.88,879.55 L454.42,881.10 L457.16,882.38 L460.03,883.41 L463.00,884.18 L466.02,884.73 L469.03,885.06 L472.00,885.20" stroke="#000" stroke-width="2.7" clip-path="url(#ends)"/>
</g>
<g stroke="#666" stroke-width="2.5">
<line x1="172.6" y1="885.2" x2="172.6" y2="890.5"/>
<line x1="203.4" y1="885.2" x2="203.4" y2="890.5"/>
<line x1="222.8" y1="885.2" x2="222.8" y2="890.5"/>
<line x1="239.5" y1="885.2" x2="239.5" y2="890.5"/>
<line x1="253.3" y1="885.2" x2="253.3" y2="890.5"/>
<line x1="264.4" y1="885.2" x2="264.4" y2="890.5"/>
<line x1="272.8" y1="885.2" x2="272.8" y2="890.5"/>
<line x1="281.2" y1="885.2" x2="281.2" y2="890.5"/>
<line x1="339.3" y1="885.2" x2="339.3" y2="890.5"/>
<line x1="367.3" y1="885.2" x2="367.3" y2="890.5"/>
<line x1="389.6" y1="885.2" x2="389.6" y2="890.5"/>
<line x1="406.4" y1="885.2" x2="406.4" y2="890.5"/>
<line x1="417.4" y1="885.2" x2="417.4" y2="890.5"/>
<line x1="428.6" y1="885.2" x2="428.6" y2="890.5"/>
<line x1="439.9" y1="885.2" x2="439.9" y2="890.5"/>
<line x1="448.2" y1="885.2" x2="448.2" y2="890.5"/>
<line x1="506.5" y1="885.2" x2="506.5" y2="890.5"/>
<line x1="534.5" y1="885.2" x2="534.5" y2="890.5"/>
<line x1="556.8" y1="885.2" x2="556.8" y2="890.5"/>
<line x1="570.7" y1="885.2" x2="570.7" y2="890.5"/>
<line x1="584.3" y1="885.2" x2="584.3" y2="890.5"/>
<line x1="595.3" y1="885.2" x2="595.3" y2="890.5"/>
<line x1="606.6" y1="885.2" x2="606.6" y2="890.5"/>
<line x1="614.9" y1="885.2" x2="614.9" y2="890.5"/>
<line x1="670.6" y1="885.2" x2="670.6" y2="890.5"/>
<line x1="701.2" y1="885.2" x2="701.2" y2="890.5"/>
<line x1="720.8" y1="885.2" x2="720.8" y2="890.5"/>
<line x1="737.4" y1="885.2" x2="737.4" y2="890.5"/>
<line x1="751.3" y1="885.2" x2="751.3" y2="890.5"/>
<line x1="762.4" y1="885.2" x2="762.4" y2="890.5"/>
<line x1="770.9" y1="885.2" x2="770.9" y2="890.5"/>
<line x1="779.3" y1="885.2" x2="779.3" y2="890.5"/>
<line x1="837.5" y1="885.2" x2="837.5" y2="890.5"/>
<line x1="868.2" y1="885.2" x2="868.2" y2="890.5"/>
<line x1="904.5" y1="885.2" x2="904.5" y2="890.5"/>
<line x1="918.4" y1="885.2" x2="918.4" y2="890.5"/>
<line x1="929.4" y1="885.2" x2="929.4" y2="890.5"/>
<line x1="937.7" y1="885.2" x2="937.7" y2="890.5"/>
<line x1="946.2" y1="885.2" x2="946.2" y2="890.5"/>
<line x1="114.3" y1="855.1" x2="119.9" y2="855.1"/>
<line x1="114.3" y1="825.0" x2="119.9" y2="825.0"/>
<line x1="114.3" y1="794.9" x2="119.9" y2="794.9"/>
<line x1="114.3" y1="764.8" x2="119.9" y2="764.8"/>
<line x1="114.3" y1="704.1" x2="119.9" y2="704.1"/>
<line x1="114.3" y1="673.5" x2="119.9" y2="673.5"/>
<line x1="114.3" y1="642.8" x2="119.9" y2="642.8"/>
<line x1="114.3" y1="612.2" x2="119.9" y2="612.2"/>
<line x1="114.3" y1="551.6" x2="119.9" y2="551.6"/>
<line x1="114.3" y1="521.6" x2="119.9" y2="521.6"/>
<line x1="114.3" y1="491.5" x2="119.9" y2="491.5"/>
<line x1="114.3" y1="461.5" x2="119.9" y2="461.5"/>
<line x1="114.3" y1="401.5" x2="119.9" y2="401.5"/>
<line x1="114.3" y1="371.4" x2="119.9" y2="371.4"/>
<line x1="114.3" y1="341.4" x2="119.9" y2="341.4"/>
<line x1="114.3" y1="311.3" x2="119.9" y2="311.3"/>
<line x1="114.3" y1="250.7" x2="119.9" y2="250.7"/>
<line x1="114.3" y1="220.1" x2="119.9" y2="220.1"/>
<line x1="114.3" y1="189.5" x2="119.9" y2="189.5"/>
<line x1="114.3" y1="158.9" x2="119.9" y2="158.9"/>
<line x1="114.3" y1="97.6" x2="119.9" y2="97.6"/>
<line x1="114.3" y1="67.2" x2="119.9" y2="67.2"/>
</g>
<g stroke="#000" stroke-width="2.9" fill="none">
<rect x="119.9" y="50.3" width="837.7" height="834.9"/>
</g>
<g stroke="#000" stroke-width="2.9" fill="none">
<line x1="119.9" y1="885.2" x2="119.9" y2="895.9"/>
<line x1="289.3" y1="885.2" x2="289.3" y2="895.9"/>
<line x1="456.6" y1="885.2" x2="456.6" y2="895.9"/>
<line x1="620.7" y1="885.2" x2="620.7" y2="895.9"/>
<line x1="787.6" y1="885.2" x2="787.6" y2="895.9"/>
<line x1="957.6" y1="885.2" x2="957.6" y2="895.9"/>
<line x1="109.1" y1="885.2" x2="119.9" y2="885.2"/>
<line x1="109.1" y1="734.7" x2="119.9" y2="734.7"/>
<line x1="109.1" y1="581.6" x2="119.9" y2="581.6"/>
<line x1="109.1" y1="431.5" x2="119.9" y2="431.5"/>
<line x1="109.1" y1="281.3" x2="119.9" y2="281.3"/>
<line x1="109.1" y1="128.3" x2="119.9" y2="128.3"/>
<line x1="109.1" y1="50.3" x2="119.9" y2="50.3"/>
</g>
<g font-family="'Liberation Sans', sans-serif" fill="#000" stroke="#000" stroke-width="0.35" stroke-linejoin="round">
<text transform="translate(97.1,937.9) scale(1,1.035)" font-size="30.3">10</text>
<text transform="translate(135.1,925.9) scale(1,1.11)" font-size="25.2">2</text>
<text transform="translate(263.5,937.9) scale(1,1.035)" font-size="30.3">10</text>
<text transform="translate(301.5,925.9) scale(1,1.11)" font-size="25.2">3</text>
<text transform="translate(429.9,937.9) scale(1,1.035)" font-size="30.3">10</text>
<text transform="translate(467.9,925.9) scale(1,1.11)" font-size="25.2">4</text>
<text transform="translate(596.3,937.9) scale(1,1.035)" font-size="30.3">10</text>
<text transform="translate(634.3,925.9) scale(1,1.11)" font-size="25.2">5</text>
<text transform="translate(762.7,937.9) scale(1,1.035)" font-size="30.3">10</text>
<text transform="translate(800.7,925.9) scale(1,1.11)" font-size="25.2">6</text>
<text transform="translate(929.1,937.9) scale(1,1.035)" font-size="30.3">10</text>
<text transform="translate(967.1,925.9) scale(1,1.11)" font-size="25.2">7</text>
<text transform="translate(92.6,884.5) rotate(-90) scale(1,1.06)" font-size="30.3" text-anchor="middle">0</text>
<text transform="translate(92.6,734.0) rotate(-90) scale(1,1.06)" font-size="30.3" text-anchor="middle">20</text>
<text transform="translate(92.6,580.9) rotate(-90) scale(1,1.06)" font-size="30.3" text-anchor="middle">40</text>
<text transform="translate(92.6,430.8) rotate(-90) scale(1,1.06)" font-size="30.3" text-anchor="middle">60</text>
<text transform="translate(92.6,280.6) rotate(-90) scale(1,1.06)" font-size="30.3" text-anchor="middle">80</text>
<text transform="translate(92.6,127.6) rotate(-90) scale(1,1.06)" font-size="30.3" text-anchor="middle">100</text>
<text transform="translate(92.6,51.7) rotate(-90) scale(1,1.06)" font-size="30.3" text-anchor="middle">110</text>
<text transform="translate(42.3,470.4) rotate(-90) scale(1,1.06)" font-size="30.3" text-anchor="middle" xml:space="preserve">Count  (%)</text>
<text transform="translate(0,981.5) scale(1,1.015)" font-size="33.3" font-weight="bold" xml:space="preserve"><tspan x="372.4" y="0">MOB1-iFluor</tspan><tspan x="570.7" y="5.42" font-size="42.8" stroke-width="0.2" textLength="32.63" lengthAdjust="spacingAndGlyphs">™</tspan><tspan x="600.34" y="0"> 488</tspan></text>
</g>
</svg>
</body>
</html>
